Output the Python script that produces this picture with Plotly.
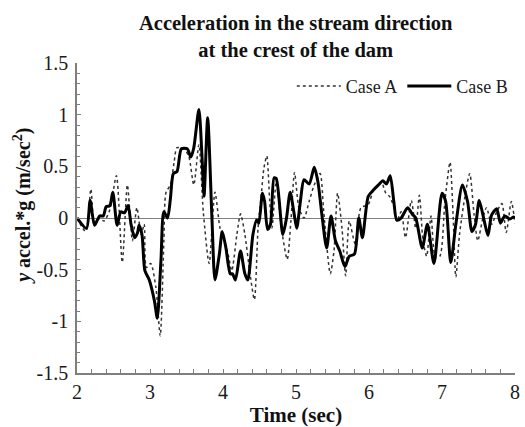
import plotly.graph_objects as go

# Time samples (s) and crest acceleration (m/s^2) for each case
time_a = [2.00, 2.12, 2.19, 2.24, 2.31, 2.37, 2.45, 2.54, 2.62, 2.69, 2.76, 2.82, 2.88, 2.92,
          2.95, 3.01, 3.08, 3.14, 3.19, 3.22, 3.28, 3.33, 3.37, 3.46, 3.53, 3.60, 3.67, 3.73,
          3.81, 3.89, 3.96, 4.02, 4.07, 4.12, 4.19, 4.24, 4.30, 4.37, 4.43, 4.48, 4.52, 4.56,
          4.60, 4.64, 4.67, 4.73, 4.80, 4.88, 4.93, 4.98, 5.04, 5.11, 5.18, 5.25, 5.33, 5.38,
          5.47, 5.52, 5.57, 5.63, 5.68, 5.73, 5.81, 5.89, 5.99, 6.06, 6.13, 6.17, 6.23, 6.28,
          6.34, 6.38, 6.44, 6.50, 6.58, 6.64, 6.69, 6.74, 6.79, 6.85, 6.91, 6.97, 7.04, 7.11,
          7.15, 7.19, 7.24, 7.31, 7.38, 7.44, 7.49, 7.56, 7.61, 7.68, 7.75, 7.82, 7.88, 7.95,
          8.00]
accel_a = [0.00, -0.13, 0.28, -0.07, 0.00, -0.03, 0.08, 0.41, -0.43, 0.32, -0.22, 0.10, -0.16, -0.06,
           -0.48, -0.44, -0.67, -1.14, -0.22, 0.25, 0.32, 0.54, 0.68, 0.67, 0.60, 0.32, 0.71, 0.06,
           -0.44, 0.25, -0.10, -0.22, -0.35, -0.51, -0.16, 0.04, -0.16, -0.54, -0.79, -0.10, 0.19, 0.48,
           0.60, 0.16, -0.10, 0.35, -0.10, -0.40, -0.03, 0.44, 0.10, 0.00, 0.16, 0.32, 0.43, 0.06,
           -0.54, -0.32, 0.24, -0.10, -0.56, -0.03, -0.25, 0.10, 0.13, 0.27, 0.32, 0.35, 0.24, 0.21,
           0.11, -0.03, 0.06, -0.19, 0.17, -0.10, 0.22, -0.22, -0.37, 0.02, -0.38, -0.37, 0.16, 0.54,
           0.06, -0.57, -0.16, 0.19, 0.43, 0.03, -0.22, 0.00, 0.10, -0.06, 0.06, 0.14, -0.14, 0.16,
           -0.05]

time_b = [2.00, 2.13, 2.18, 2.24, 2.31, 2.36, 2.40, 2.45, 2.49, 2.55, 2.60, 2.65, 2.70, 2.74,
          2.79, 2.83, 2.85, 2.89, 2.93, 2.99, 3.06, 3.10, 3.15, 3.19, 3.24, 3.28, 3.32, 3.37,
          3.43, 3.51, 3.56, 3.60, 3.67, 3.71, 3.74, 3.79, 3.85, 3.89, 3.95, 3.99, 4.04, 4.10,
          4.13, 4.17, 4.24, 4.30, 4.34, 4.41, 4.46, 4.49, 4.54, 4.57, 4.61, 4.65, 4.70, 4.73,
          4.82, 4.87, 4.92, 4.97, 5.01, 5.06, 5.11, 5.18, 5.25, 5.30, 5.36, 5.42, 5.48, 5.54,
          5.60, 5.67, 5.73, 5.80, 5.86, 5.91, 5.99, 6.06, 6.13, 6.19, 6.24, 6.29, 6.34, 6.38,
          6.44, 6.53, 6.60, 6.64, 6.73, 6.80, 6.89, 7.00, 7.05, 7.12, 7.19, 7.28, 7.35, 7.41,
          7.46, 7.51, 7.57, 7.63, 7.68, 7.75, 7.80, 7.86, 7.93, 7.98, 8.00]
accel_b = [0.00, -0.10, 0.17, -0.07, 0.02, 0.02, 0.11, 0.12, 0.25, -0.07, 0.06, 0.05, 0.12, -0.06,
           -0.19, -0.14, -0.07, -0.16, -0.51, -0.60, -0.80, -0.97, -0.41, 0.06, 0.00, 0.19, 0.43, 0.45,
           0.67, 0.67, 0.59, 0.68, 1.05, 0.63, 0.21, 0.97, -0.03, -0.60, -0.35, -0.13, -0.29, -0.54,
           -0.54, -0.60, -0.32, -0.54, -0.60, -0.16, -0.02, -0.05, 0.24, 0.16, -0.11, -0.06, 0.39, 0.38,
           -0.16, 0.00, 0.25, 0.06, -0.10, 0.16, 0.37, 0.33, 0.49, 0.35, 0.00, -0.29, 0.02, -0.22,
           -0.32, -0.47, -0.37, -0.35, 0.00, -0.19, 0.21, 0.27, 0.32, 0.36, 0.33, 0.41, 0.16, -0.02,
           0.00, 0.10, 0.03, 0.00, -0.29, -0.06, -0.44, 0.24, 0.16, -0.43, -0.06, 0.32, 0.16, -0.13,
           -0.06, 0.17, 0.00, -0.17, 0.03, 0.09, -0.05, 0.02, -0.01, 0.01, 0.00]

x_ticks = [2, 3, 4, 5, 6, 7, 8]
y_ticks = [-1.5, -1, -0.5, 0, 0.5, 1, 1.5]
y_tick_text = ["-1.5", "-1", "-0.5", "0", "0.5", "1", "1.5"]

SERIF = "Liberation Serif, Times New Roman, serif"
AXIS_GRAY = "#7f7f7f"
TEXT = "#1a1a1a"

fig = go.Figure()
fig.add_trace(go.Scatter(
    x=time_a, y=accel_a, mode="lines", name="Case A",
    line=dict(color="#333333", width=1.5, dash="dot", shape="spline", smoothing=0.7),
))
fig.add_trace(go.Scatter(
    x=time_b, y=accel_b, mode="lines", name="Case B",
    line=dict(color="black", width=3, shape="spline", smoothing=0.7),
))

fig.update_layout(
    width=525, height=427,
    margin=dict(l=77, r=5, t=63, b=54),
    paper_bgcolor="white", plot_bgcolor="white",
    font=dict(family=SERIF, size=20, color=TEXT),
    legend=dict(
        orientation="h", x=0.995, xanchor="right", y=0.925, yanchor="middle",
        bgcolor="rgba(0,0,0,0)", font=dict(family=SERIF, size=18, color=TEXT),
        itemwidth=44, tracegroupgap=0,
    ),
    showlegend=True,
    annotations=[
        # chart title, two centred lines above the plot area
        dict(text="<b>Acceleration in the stream direction<br>at the crest of the dam</b>",
             xref="paper", yref="paper", x=0.499, y=1.085, xanchor="center", yanchor="middle",
             showarrow=False, font=dict(family=SERIF, size=20.5, color="#111111")),
        # vertical axis title
        dict(text="<b><i>y</i> accel.*g (m/sec<sup>2</sup>)</b>",
             xref="paper", yref="paper", x=-0.125, y=0.54, xanchor="center", yanchor="middle",
             textangle=-90, showarrow=False, font=dict(family=SERIF, size=20, color="#111111")),
    ],
)

fig.update_xaxes(
    range=[2, 8], tickvals=x_ticks, ticktext=[str(v) for v in x_ticks],
    showgrid=False, zeroline=False,
    showline=True, linecolor=AXIS_GRAY, linewidth=1.5,
    ticks="inside", ticklen=4, tickcolor=AXIS_GRAY, tickwidth=1,
    minor=dict(dtick=0.2, ticks="inside", ticklen=4, tickcolor=AXIS_GRAY, tickwidth=1),
    tickfont=dict(family=SERIF, size=20, color=TEXT),
    title=dict(text="<b>Time (sec)</b>", font=dict(family=SERIF, size=21, color="#111111"), standoff=5),
)
fig.update_yaxes(
    range=[-1.5, 1.5], tickvals=y_ticks, ticktext=y_tick_text,
    showgrid=False, zeroline=True, zerolinecolor=AXIS_GRAY, zerolinewidth=1,
    showline=True, linecolor=AXIS_GRAY, linewidth=1.5,
    ticks="inside", ticklen=4, tickcolor=AXIS_GRAY, tickwidth=1,
    minor=dict(dtick=0.1, ticks="inside", ticklen=3, tickcolor=AXIS_GRAY, tickwidth=1),
    tickfont=dict(family=SERIF, size=20, color=TEXT),
    ticklabelstandoff=3,
)

fig.write_html("out.html")
